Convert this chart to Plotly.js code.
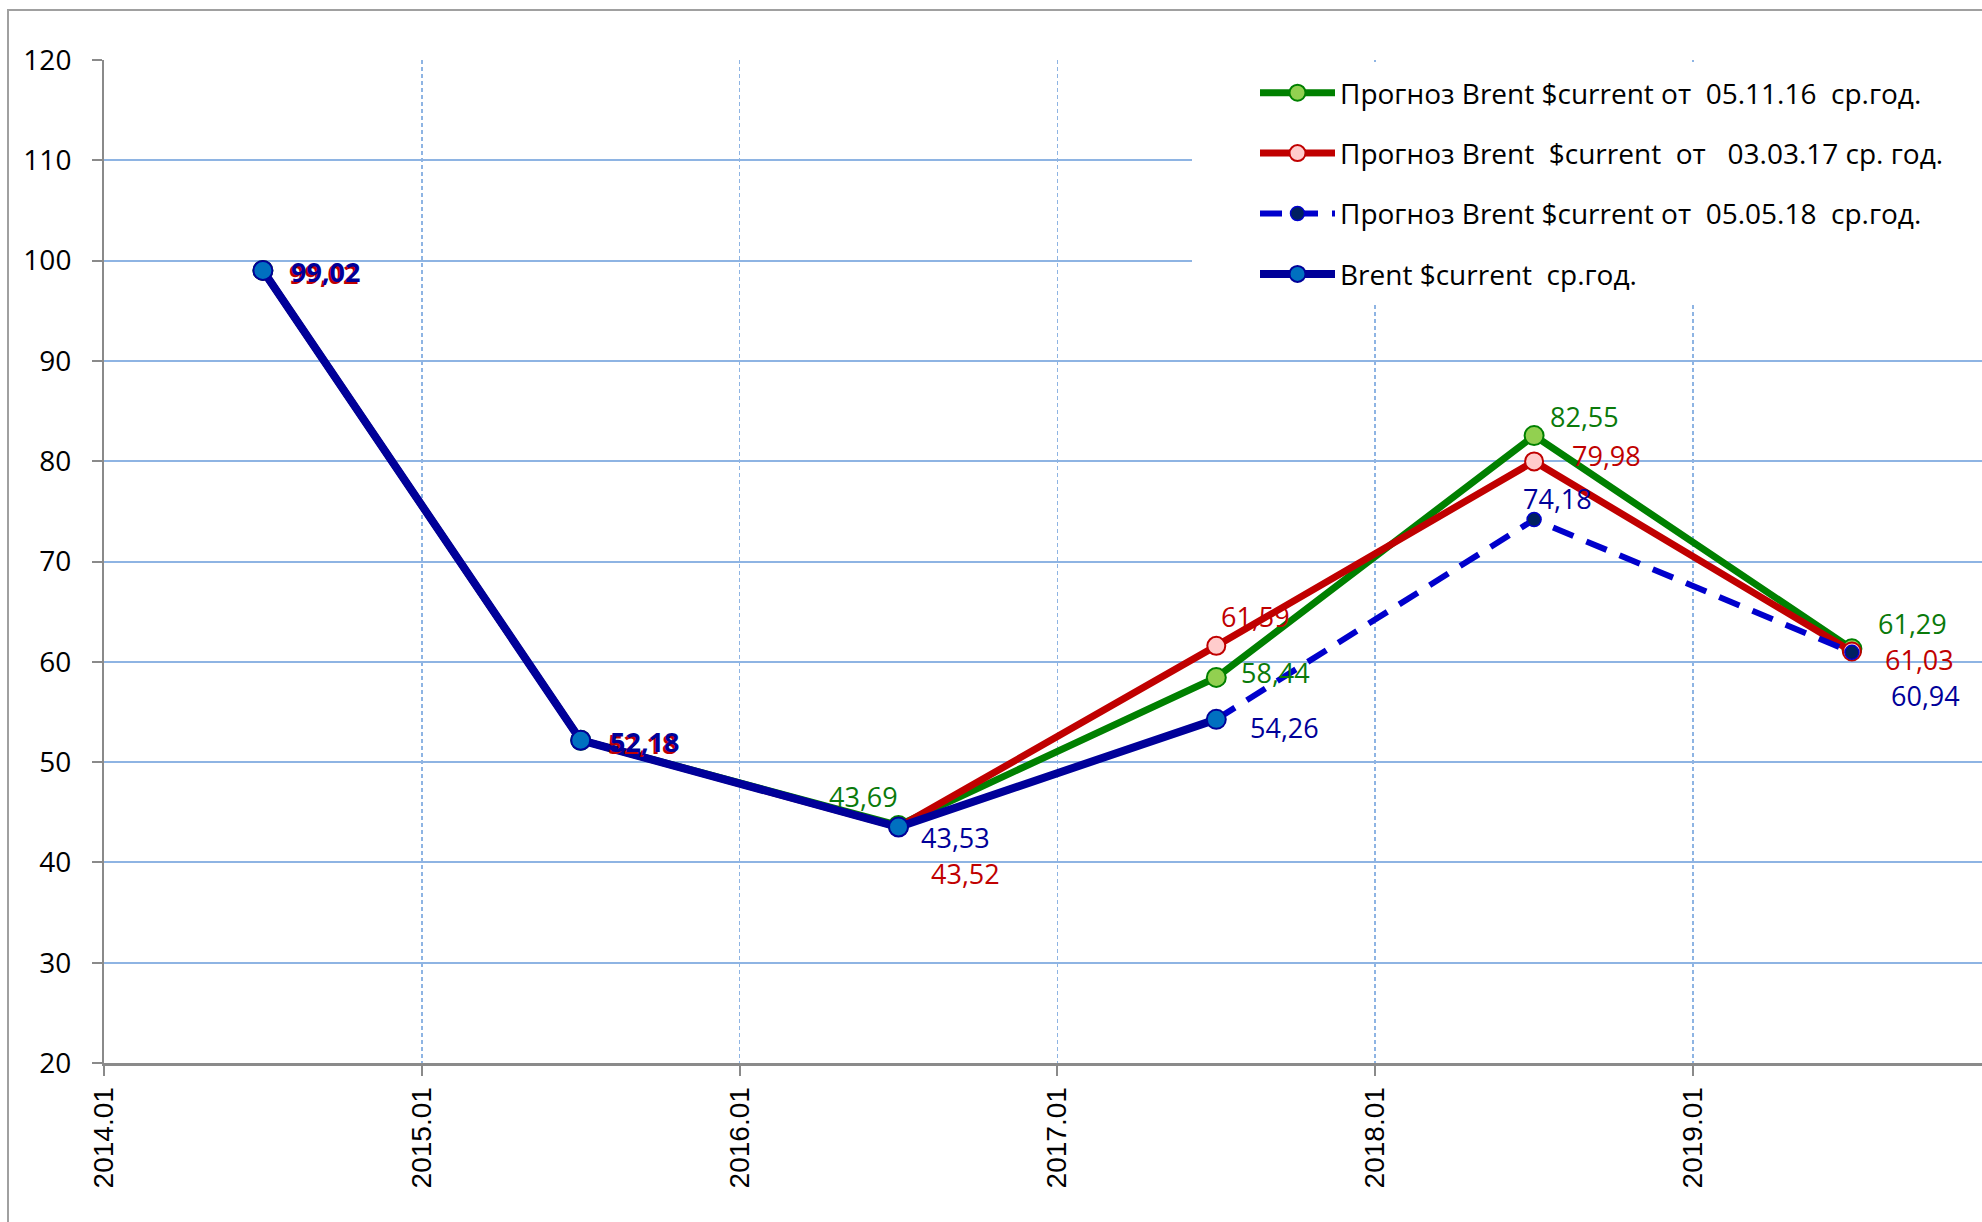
<!DOCTYPE html>
<html>
<head>
<meta charset="utf-8">
<script src="https://cdn.plot.ly/plotly-3.0.1.min.js"></script>
<style>html,body{margin:0;padding:0;background:#fff;}</style>
</head>
<body>
<div id="chart" style="width:1982px;height:1222px;"></div>
<script>
// ---- data ----
const periodX = [2014.5, 2015.5, 2016.5, 2017.5, 2018.5, 2019.5];
const tickVals = [2014, 2015, 2016, 2017, 2018, 2019];
const tickLabels = ['2014.01', '2015.01', '2016.01', '2017.01', '2018.01', '2019.01'];
const forecastNov16 = [99.02, 52.18, 43.69, 58.44, 82.55, 61.29];
const forecastMar17 = [99.02, 52.18, 43.52, 61.59, 79.98, 61.03];
const forecastMay18 = [null, null, null, 54.26, 74.18, 60.94];
const brentActual = [99.02, 52.18, 43.53, 54.26, null, null];
const seriesNames = [
  'Прогноз Brent $current от  05.11.16  ср.год.',
  'Прогноз Brent  $current  от   03.03.17 ср. год.',
  'Прогноз Brent $current от  05.05.18  ср.год.',
  'Brent $current  ср.год.'
];

// ---- label placement (px offsets from the marker: [left-edge dx, center dy(down)], null = no label) ----
const FONT = 'Open Sans';
const labelOffsetsNov16 = [null, null, [-71, -29], [24, -5], [15, -19], [25, -25]];
const labelOffsetsMar17 = [[25, 3], [26, 3], [31, 46], [4, -29], [37, -6], [32, 8]];
const labelOffsetsMay18 = [null, null, null, null, [-12, -21], [38, 43]];
const labelOffsetsActual = [[27, 1], [28, 1], [21, 11], [33, 8], null, null];
const boldIdx = [0, 1];

const fmt = v => v.toFixed(2).replace('.', ',');
const annotations = [];
function addLabels(ys, offs, color) {
  ys.forEach((v, i) => {
    if (v == null || !offs[i]) return;
    const bold = boldIdx.includes(i);
    annotations.push({
      x: periodX[i], y: v, xref: 'x', yref: 'y',
      text: bold ? '<b>' + fmt(v) + '</b>' : fmt(v),
      showarrow: false, xanchor: 'left', yanchor: 'middle',
      xshift: offs[i][0], yshift: -offs[i][1], borderpad: 0,
      font: {family: FONT, size: 27, color: color}
    });
  });
}
addLabels(forecastNov16, labelOffsetsNov16, '#0A7A0A');
addLabels(forecastMar17, labelOffsetsMar17, '#C00000');
addLabels(forecastMay18, labelOffsetsMay18, '#000099');
addLabels(brentActual, labelOffsetsActual, '#000099');

const traces = [
  {x: periodX, y: forecastNov16, name: seriesNames[0], legendgroup: 'g1', type: 'scatter', mode: 'lines+markers',
   line: {color: '#008000', width: 7}, marker: {size: 19, color: '#92D050', line: {color: '#008000', width: 2}}},
  {x: periodX, y: forecastMar17, name: seriesNames[1], legendgroup: 'g2', type: 'scatter', mode: 'lines+markers',
   line: {color: '#C00000', width: 7}, marker: {size: 18, color: '#FFCCCC', line: {color: '#C00000', width: 2}}},
  {x: periodX, y: forecastMay18, name: seriesNames[2], legendgroup: 'g3', type: 'scatter', mode: 'lines+markers',
   line: {color: '#0000CC', width: 6, dash: '22px,14px'}, marker: {size: 14, color: '#002060', line: {color: '#0000CC', width: 1.5}}},
  {x: periodX, y: brentActual, name: seriesNames[3], legendgroup: 'g4', type: 'scatter', mode: 'lines+markers',
   line: {color: '#000099', width: 8}, marker: {size: 19, color: '#0070C0', line: {color: '#000099', width: 2}}}
];

const L = 104, T = 60, B = 159, W = 1982, H = 1222;
const pw = W - L, ph = H - T - B;
const px2x = p => (p - L) / pw;
const px2y = p => (H - B - p) / ph;

const layout = {
  width: W, height: H,
  margin: {l: L, r: 0, t: T, b: B, pad: 0},
  paper_bgcolor: '#fff', plot_bgcolor: '#fff',
  font: {family: FONT, size: 27, color: '#000'},
  showlegend: true,
  legend: {
    x: px2x(1255), y: px2y(68), xanchor: 'left', yanchor: 'top',
    bgcolor: 'rgba(0,0,0,0)', borderwidth: 0,
    font: {family: FONT, size: 28, color: '#000'},
    itemwidth: 75, tracegroupgap: 21, traceorder: 'grouped'
  },
  xaxis: {
    range: [2014, 2014 + (W - L) / 317.8],
    tickmode: 'array', tickvals: tickVals, ticktext: tickLabels, tickangle: -90,
    tickfont: {family: 'Liberation Sans', size: 28, color: '#000'},
    showgrid: true, gridcolor: '#8EB4E3', gridwidth: 1.5, griddash: '4px,3px',
    showline: true, linecolor: '#8A8A8A', linewidth: 3,
    ticks: 'outside', ticklen: 10, tickwidth: 2, tickcolor: '#8A8A8A',
    ticklabelstandoff: 0, zeroline: false, fixedrange: true
  },
  yaxis: {
    range: [20, 120], tick0: 20, dtick: 10,
    tickfont: {family: FONT, size: 28, color: '#000'},
    showgrid: true, gridcolor: '#8EB4E3', gridwidth: 2,
    showline: true, linecolor: '#8A8A8A', linewidth: 2,
    ticks: 'outside', ticklen: 10, tickwidth: 2, tickcolor: '#8A8A8A',
    ticklabelstandoff: 15, zeroline: false, fixedrange: true
  },
  shapes: [
    {type: 'rect', xref: 'paper', yref: 'paper', x0: px2x(1192), x1: 1.01, y0: px2y(303), y1: px2y(62),
     fillcolor: '#fff', line: {width: 0}, layer: 'above'},
    {type: 'rect', xref: 'paper', yref: 'paper', x0: px2x(8), x1: px2x(2010), y0: px2y(1240), y1: px2y(10),
     fillcolor: 'rgba(0,0,0,0)', line: {color: '#A0A0A0', width: 2}, layer: 'above'}
  ],
  annotations: annotations
};

Plotly.newPlot('chart', traces, layout, {displayModeBar: false, staticPlot: true});
</script>
</body>
</html>
